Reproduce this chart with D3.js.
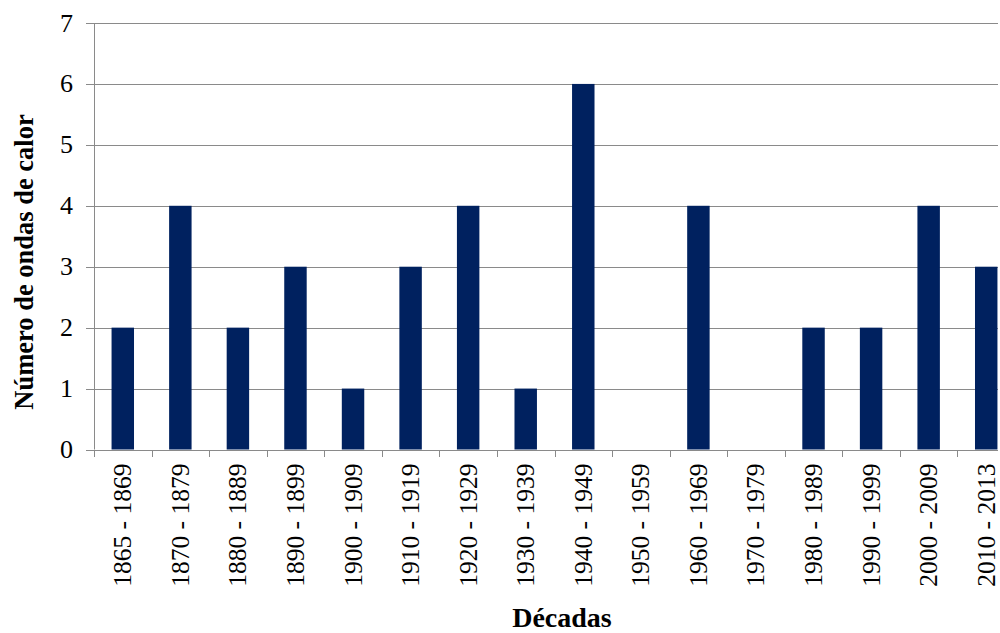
<!DOCTYPE html>
<html>
<head>
<meta charset="utf-8">
<script src="https://cdn.jsdelivr.net/npm/d3@7"></script>
<style>
  html, body { margin: 0; padding: 0; background: #fff; }
  svg { display: block; }
  text { font-family: "Liberation Serif", "Times New Roman", serif; fill: #000; }
</style>
</head>
<body>
<svg id="chart" width="1000" height="633"></svg>
<script>
// Heat waves per decade
const decades = ["1865 - 1869", "1870 - 1879", "1880 - 1889", "1890 - 1899", "1900 - 1909",
  "1910 - 1919", "1920 - 1929", "1930 - 1939", "1940 - 1949", "1950 - 1959",
  "1960 - 1969", "1970 - 1979", "1980 - 1989", "1990 - 1999", "2000 - 2009", "2010 - 2013"];
const heatWaves = [2, 4, 2, 3, 1, 3, 4, 1, 6, 0, 4, 0, 2, 2, 4, 3];
const yTicks = [0, 1, 2, 3, 4, 5, 6, 7];
const yTitle = "Número de ondas de calor";
const xTitle = "Décadas";

const svg = d3.select("#chart");
const plotLeft = 94, plotRight = 1015, plotTop = 23, plotBottom = 449.5, clipRight = 998;
const gridColor = "#8a8a8a";

const x = d3.scaleBand().domain(decades).range([plotLeft, plotRight]).paddingInner(0.61).paddingOuter(0.305);
const y = d3.scaleLinear().domain([0, 7]).range([plotBottom, plotTop]);

svg.append("defs").append("clipPath").attr("id", "plotClip")
  .append("rect").attr("x", 0).attr("y", 0).attr("width", clipRight).attr("height", 633);

const g = svg.append("g").attr("clip-path", "url(#plotClip)");

// horizontal gridlines with left tick stubs
g.selectAll("line.grid").data(yTicks).join("line")
  .attr("class", "grid")
  .attr("x1", plotLeft - 8).attr("x2", plotRight)
  .attr("y1", d => Math.round(y(d)) + 0.5).attr("y2", d => Math.round(y(d)) + 0.5)
  .attr("stroke", gridColor).attr("stroke-width", 1);

// y axis line
g.append("line")
  .attr("x1", plotLeft + 0.5).attr("x2", plotLeft + 0.5)
  .attr("y1", y(7)).attr("y2", y(0))
  .attr("stroke", gridColor).attr("stroke-width", 1);

// category tick marks below the axis
const bounds = d3.range(decades.length + 1).map(i => plotLeft + i * x.step());
g.selectAll("line.xtick").data(bounds).join("line")
  .attr("class", "xtick")
  .attr("x1", d => Math.round(d) + 0.5).attr("x2", d => Math.round(d) + 0.5)
  .attr("y1", Math.round(y(0))).attr("y2", Math.round(y(0)) + 7)
  .attr("stroke", gridColor).attr("stroke-width", 1);

// bars
g.selectAll("rect.bar").data(heatWaves).join("rect")
  .attr("class", "bar")
  .attr("x", (d, i) => x(decades[i]))
  .attr("width", x.bandwidth())
  .attr("y", d => y(d))
  .attr("height", d => y(0) - y(d))
  .attr("fill", "#00215f");

// y tick labels
svg.selectAll("text.ytick").data(yTicks).join("text")
  .attr("class", "ytick")
  .attr("x", 73).attr("y", d => y(d))
  .attr("text-anchor", "end").attr("dominant-baseline", "central")
  .attr("font-size", 26)
  .text(d => d);

// x tick labels, rotated
svg.selectAll("text.xlab").data(decades).join("text")
  .attr("class", "xlab")
  .attr("transform", d => `translate(${x(d) + x.bandwidth() / 2},${plotBottom + 14}) rotate(-90)`)
  .attr("text-anchor", "end").attr("dominant-baseline", "central")
  .attr("font-size", 25.5)
  .text(d => d);

// axis titles
svg.append("text")
  .attr("transform", "translate(33,262) rotate(-90)")
  .attr("text-anchor", "middle")
  .attr("font-size", 26.5).attr("font-weight", "bold")
  .text(yTitle);

svg.append("text")
  .attr("x", 562).attr("y", 627)
  .attr("text-anchor", "middle")
  .attr("font-size", 28).attr("font-weight", "bold")
  .text(xTitle);
</script>
</body>
</html>
